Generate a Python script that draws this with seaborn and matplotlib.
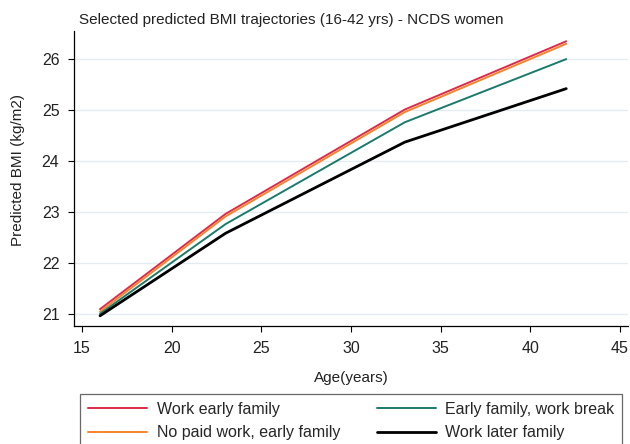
import matplotlib
matplotlib.use("Agg")
import matplotlib.pyplot as plt
import seaborn as sns
import pandas as pd

ages = [16, 23, 33, 42]
work_early_family = [21.09, 22.96, 25.01, 26.35]
no_paid_work_early_family = [21.04, 22.91, 24.96, 26.30]
early_family_work_break = [21.00, 22.76, 24.76, 26.00]
work_later_family = [20.96, 22.58, 24.37, 25.42]
series_names = ["Work early family", "No paid work, early family",
                "Early family, work break", "Work later family"]
colors = ["#dc2a4a", "#f5842b", "#1a7a6c", "#000000"]
widths = [1.4, 1.4, 1.4, 2.0]

rows = []
for name, vals in zip(series_names, [work_early_family, no_paid_work_early_family,
                                     early_family_work_break, work_later_family]):
    for a, v in zip(ages, vals):
        rows.append({"age": a, "bmi": v, "group": name})
df = pd.DataFrame(rows)

sns.set_style("white")
plt.rcParams['font.family'] = ['Liberation Sans', 'DejaVu Sans']

fig = plt.figure(figsize=(6.3, 4.44), dpi=100)
ax = fig.add_axes([0.1175, 0.2658, 0.8795, 0.6642])

for name, c, w in zip(series_names, colors, widths):
    sns.lineplot(data=df[df.group == name], x="age", y="bmi", color=c,
                 linewidth=w, ax=ax, label=name)

ax.set_xlim(14.55, 45.45)
ax.set_ylim(20.76, 26.55)
ax.set_xticks([15, 20, 25, 30, 35, 40, 45])
ax.set_yticks([21, 22, 23, 24, 25, 26])
ax.yaxis.grid(True, color="#e3edf1", linewidth=1)
ax.xaxis.grid(False)
for s in ["top", "right"]:
    ax.spines[s].set_visible(False)
for s in ["left", "bottom"]:
    ax.spines[s].set_color("black")
    ax.spines[s].set_linewidth(0.9)
ax.tick_params(axis="both", direction="out", length=4.5, width=0.8, color="black",
               labelsize=11.5, labelcolor="#222222", bottom=True, left=True, pad=6)
ax.set_xlabel("Age(years)", fontsize=11, color="#222222", labelpad=11)
ax.set_ylabel("Predicted BMI (kg/m2)", fontsize=11, color="#222222")
ax.yaxis.set_label_coords(-0.088, 0.53)
fig.text(0.463, 0.955, "Selected predicted BMI trajectories (16-42 yrs) - NCDS women",
         ha="center", va="center", fontsize=11, color="#222222")

ax.get_legend().remove()
handles, labels = ax.get_legend_handles_labels()
leg = fig.legend(handles, labels, ncol=2, loc="lower left",
                 bbox_to_anchor=(0.127, -0.010, 0.861, 0.106), mode="expand",
                 frameon=True, fancybox=False, fontsize=11.5, handlelength=3.7,
                 handletextpad=0.6, borderpad=0.5,
                 borderaxespad=0, labelspacing=0.55, columnspacing=2.2)
leg.get_frame().set_edgecolor("#444444")
leg.get_frame().set_linewidth(0.9)

fig.savefig("out.png", dpi=100)
